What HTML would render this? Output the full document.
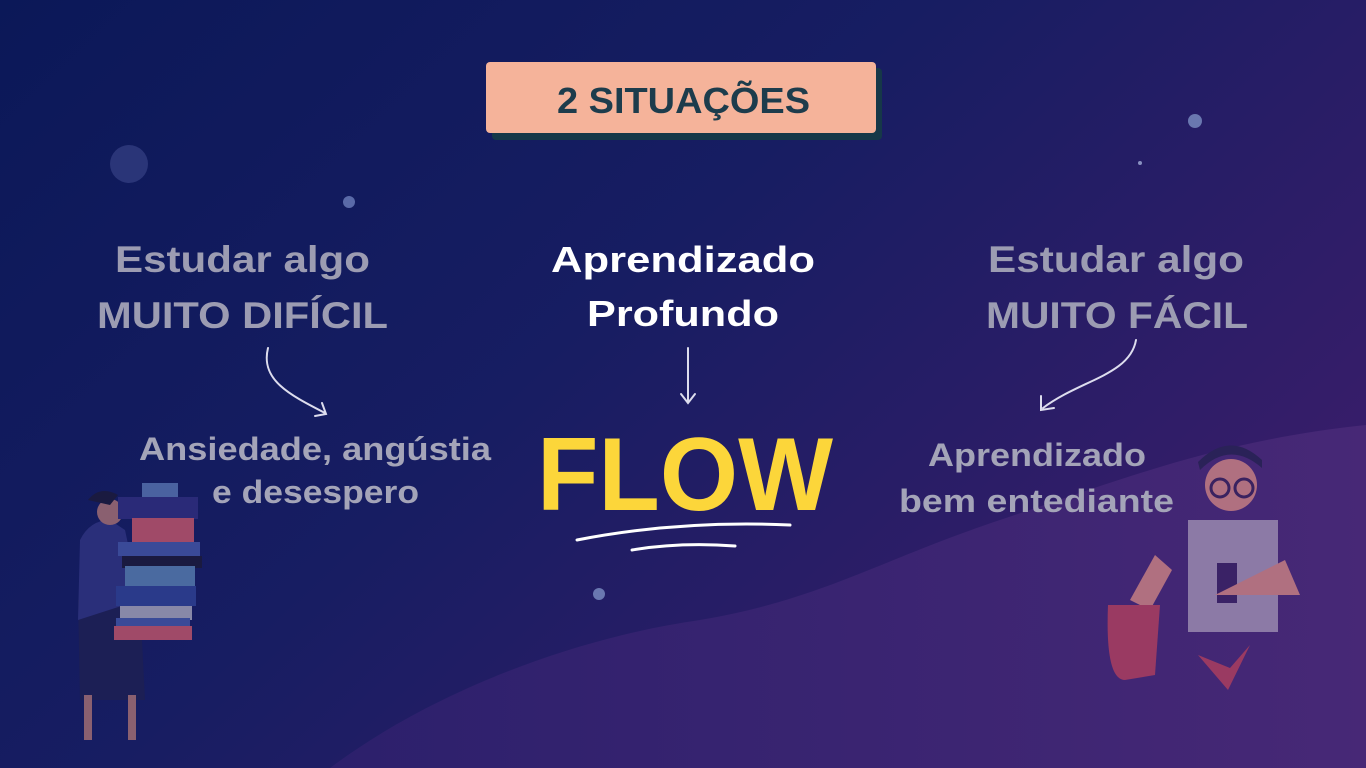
<!DOCTYPE html>
<html><head><meta charset="utf-8"><style>
body{margin:0;width:1366px;height:768px;overflow:hidden;background:#0f1a5a}
svg{display:block}
text{font-family:"Liberation Sans",sans-serif;font-weight:bold}
</style></head><body>
<svg width="1366" height="768" viewBox="0 0 1366 768">
<defs>
<linearGradient id="bg" x1="0" y1="0" x2="1" y2="0.6">
<stop offset="0" stop-color="#0b1858"/><stop offset="0.5" stop-color="#171d62"/><stop offset="1" stop-color="#381d6a"/></linearGradient>
<linearGradient id="wave" x1="0" y1="0" x2="1" y2="0">
<stop offset="0" stop-color="#2c206c"/><stop offset="1" stop-color="#472876"/></linearGradient>
</defs>
<rect width="1366" height="768" fill="url(#bg)"/>
<path d="M330 768 C420 700 560 640 700 620 C820 600 880 560 1000 520 C1120 480 1220 440 1366 425 L1366 768 Z" fill="url(#wave)"/>
<circle cx="129" cy="164" r="19" fill="#2a3578"/>
<circle cx="349" cy="202" r="6" fill="#5a6aa8"/>
<circle cx="1195" cy="121" r="7" fill="#6a78b0"/>
<circle cx="599" cy="594" r="6" fill="#6a78b0"/>
<circle cx="1140" cy="163" r="2" fill="#8890c0"/>
<rect x="492" y="68" width="390" height="72" rx="4" fill="#163848"/>
<rect x="486" y="62" width="390" height="71" rx="4" fill="#f5b39a"/>
<text x="557" y="113" font-size="36" fill="#1d3c4c" textLength="253" lengthAdjust="spacingAndGlyphs">2 SITUAÇÕES</text>
<g fill="#9c9cb2" font-size="37">
<text x="115" y="272" textLength="255" lengthAdjust="spacingAndGlyphs">Estudar algo</text>
<text x="97" y="328" textLength="291" lengthAdjust="spacingAndGlyphs">MUITO DIFÍCIL</text>
<text x="988" y="272" textLength="256" lengthAdjust="spacingAndGlyphs">Estudar algo</text>
<text x="986" y="328" textLength="262" lengthAdjust="spacingAndGlyphs">MUITO FÁCIL</text>
</g>
<g fill="#ffffff" font-size="36">
<text x="551" y="272" textLength="264" lengthAdjust="spacingAndGlyphs">Aprendizado</text>
<text x="587" y="326" textLength="192" lengthAdjust="spacingAndGlyphs">Profundo</text>
</g>
<g fill="#a4a4b8" font-size="32">
<text x="139" y="460" textLength="352" lengthAdjust="spacingAndGlyphs">Ansiedade, angústia</text>
<text x="212" y="503" textLength="207" lengthAdjust="spacingAndGlyphs">e desespero</text>
<text x="928" y="466" textLength="218" lengthAdjust="spacingAndGlyphs">Aprendizado</text>
<text x="899" y="512" textLength="275" lengthAdjust="spacingAndGlyphs">bem entediante</text>
</g>
<text x="537" y="510" font-size="104" fill="#fcd63a" textLength="296" lengthAdjust="spacingAndGlyphs">FLOW</text>
<path d="M577 540 Q680 520 790 525" stroke="#fff" stroke-width="3" fill="none" stroke-linecap="round"/>
<path d="M632 550 Q680 542 735 546" stroke="#fff" stroke-width="3" fill="none" stroke-linecap="round"/>
<g stroke="#dde" stroke-width="2" fill="none" stroke-linecap="round">
<path d="M268 348 C260 380 290 395 325 413"/><path d="M315 416 L326 414 L322 403"/>
<path d="M688 348 L688 402"/><path d="M681 394 L688 403 L695 394"/>
<path d="M1136 340 C1130 375 1080 380 1043 408"/><path d="M1041 396 L1041 410 L1054 408"/>
</g>
<g>
<path d="M78 600 L80 700 L145 700 L140 600 Z" fill="#1c1f55"/>
<rect x="84" y="695" width="8" height="45" fill="#8a6070"/><rect x="128" y="695" width="8" height="45" fill="#8a6070"/>
<path d="M80 540 Q90 520 110 520 L125 530 L140 600 L78 620 Z" fill="#2a2f7a"/>
<circle cx="110" cy="512" r="13" fill="#8a6070"/>
<path d="M88 500 Q100 485 118 495 L110 505 Z" fill="#1a1a40"/>
<rect x="142" y="483" width="36" height="15" fill="#4a62a0"/>
<rect x="118" y="497" width="80" height="22" fill="#2a2a78"/>
<rect x="132" y="518" width="62" height="24" fill="#a04a68"/>
<rect x="118" y="542" width="82" height="14" fill="#3a4a98"/>
<rect x="122" y="556" width="80" height="12" fill="#1a1a40"/>
<rect x="125" y="566" width="70" height="20" fill="#4a6aa0"/>
<rect x="116" y="586" width="80" height="20" fill="#2a3a8a"/>
<rect x="120" y="606" width="72" height="14" fill="#8888a8"/>
<rect x="116" y="618" width="74" height="10" fill="#3a4a98"/>
<rect x="114" y="626" width="78" height="14" fill="#a04a68"/>
</g>
<g>
<rect x="1188" y="520" width="90" height="112" fill="#8c7aa6"/>
<rect x="1217" y="563" width="20" height="40" fill="#3a2266"/>
<circle cx="1231" cy="485" r="26" fill="#b07080"/>
<path d="M1200 470 Q1230 440 1262 468 L1262 460 Q1230 430 1198 462 Z" fill="#2a2258"/>
<circle cx="1220" cy="488" r="9" fill="none" stroke="#3a2260" stroke-width="3"/>
<circle cx="1244" cy="488" r="9" fill="none" stroke="#3a2260" stroke-width="3"/>
<path d="M1215 595 L1300 595 L1285 560 Z" fill="#b07080"/>
<path d="M1155 555 L1172 570 L1150 610 L1130 600 Z" fill="#b07080"/>
<path d="M1108 605 Q1105 680 1125 680 L1155 675 L1160 605 Z" fill="#9a3a62"/>
<path d="M1198 655 L1230 668 L1250 645 L1228 690 Z" fill="#9a3a62"/>
</g>
</svg>
</body></html>
